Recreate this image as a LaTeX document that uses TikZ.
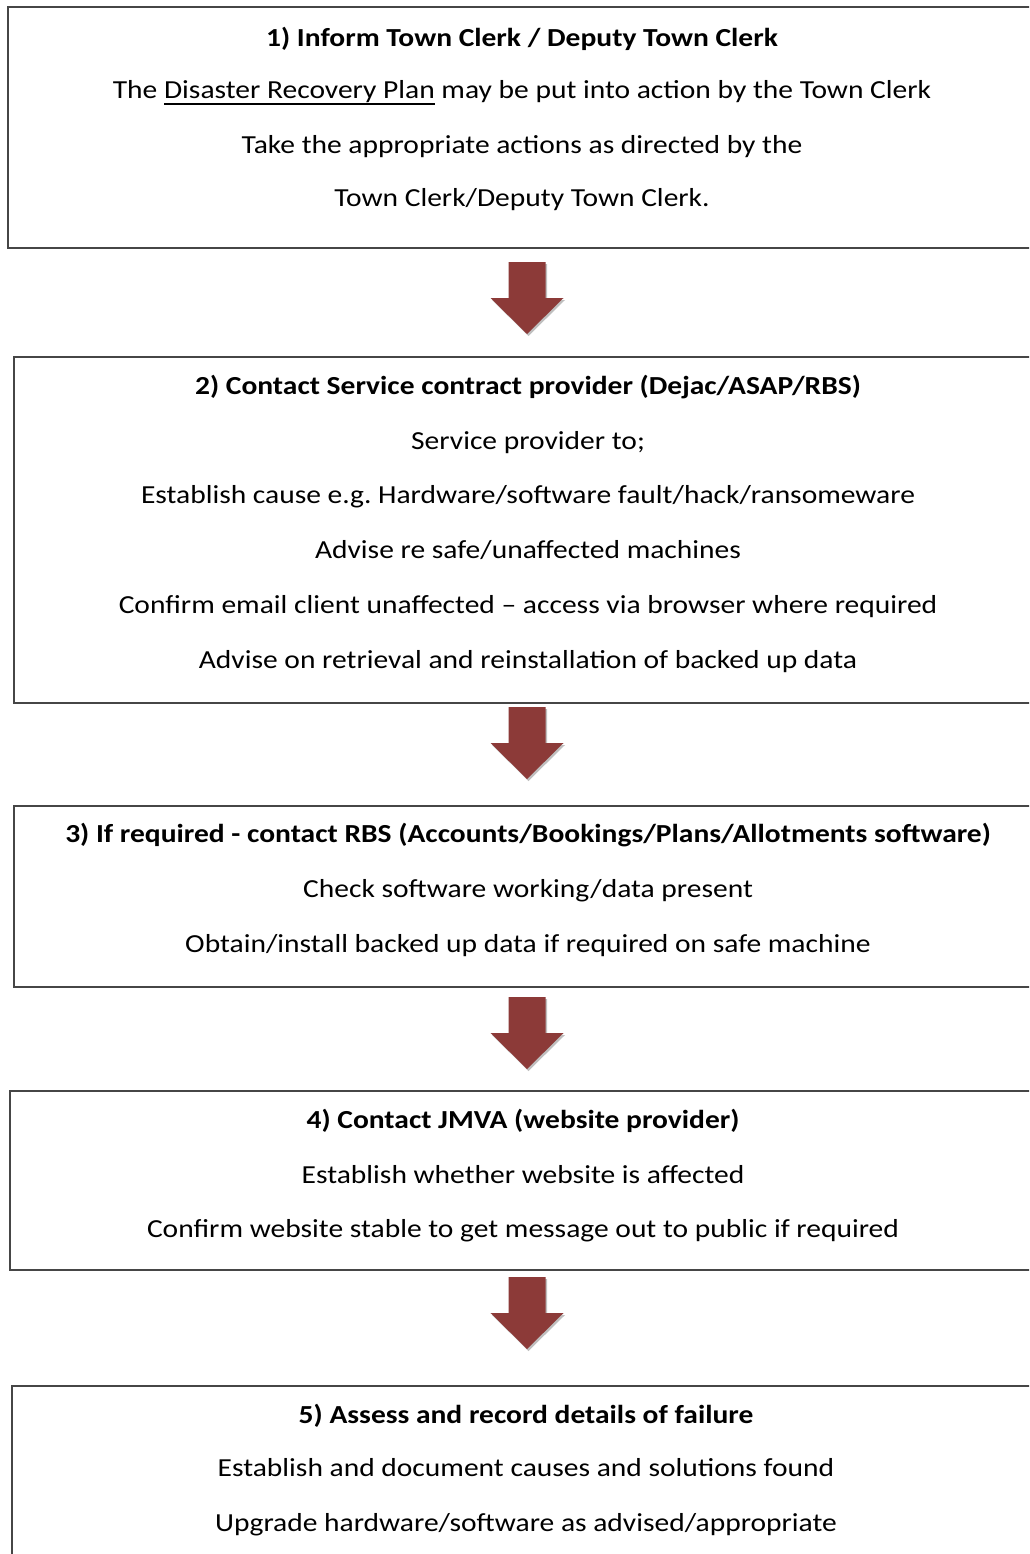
\documentclass[tikz,border=0pt]{standalone}
\usepackage{fontspec}
\setmainfont{Carlito}[FakeStretch=1.135]
\newcommand\myul[1]{\setbox0=\hbox{#1}\rlap{\rule[-5.6pt]{\wd0}{1.8pt}}\box0\relax}
\frenchspacing
\usetikzlibrary{shadows}
\definecolor{arrowred}{RGB}{140,58,56}
\definecolor{boxline}{RGB}{70,70,70}
\begin{document}
\begin{tikzpicture}[x=1pt,y=-1pt,
  box/.style={draw=boxline, line width=2pt, fill=white, anchor=north west, inner sep=0pt, outer sep=0pt},
  txt/.style={anchor=base, inner sep=0pt, font=\fontsize{26}{30}\selectfont},
  ttl/.style={anchor=base, inner sep=0pt, font=\fontsize{26}{30}\selectfont\bfseries},
  blockarrow/.style={fill=arrowred, drop shadow={shadow xshift=1.5pt, shadow yshift=-2pt, opacity=0.25, fill=black}}]
\useasboundingbox (0,0) rectangle (1029,1554);
\clip (0,0) rectangle (1029,1554);
\fill[white] (0,0) rectangle (1029,1554);

% boxes
\node[box, minimum width=1032pt, minimum height=241pt] (b1) at (8,7) {};
\node[box, minimum width=1026pt, minimum height=346pt] (b2) at (14,357) {};
\node[box, minimum width=1026pt, minimum height=181pt] (b3) at (14,806) {};
\node[box, minimum width=1030pt, minimum height=179pt] (b4) at (10,1091) {};
\node[box, minimum width=1028pt, minimum height=190pt] (b5) at (12,1386) {};

% box 1 text
\node[ttl] (t1a) at (522,47) {1) Inform Town Clerk / Deputy Town Clerk};
\node[txt] (t1b) at (522,99) {The \myul{Disaster Recovery Plan} may be put into action by the Town Clerk};
\node[txt] (t1c) at (522,153.5) {Take the appropriate actions as directed by the};
\node[txt] (t1d) at (522,207) {Town Clerk/Deputy Town Clerk.};

% box 2 text
\node[ttl] (t2a) at (528,394) {2) Contact Service contract provider (Dejac/ASAP/RBS)};
\node[txt] (t2b) at (528,449) {Service provider to;};
\node[txt] (t2c) at (528,503) {Establish cause e.g. Hardware/software fault/hack/ransomeware};
\node[txt] (t2d) at (528,558) {Advise re safe/unaffected machines};
\node[txt] (t2e) at (528,613) {Confirm email client unaffected – access via browser where required};
\node[txt] (t2f) at (528,668) {Advise on retrieval and reinstallation of backed up data};

% box 3 text
\node[ttl] (t3a) at (528,842) {3) If required - contact RBS (Accounts/Bookings/Plans/Allotments software)};
\node[txt] (t3b) at (528,897) {Check software working/data present};
\node[txt] (t3c) at (528,952) {Obtain/install backed up data if required on safe machine};

% box 4 text
\node[ttl] (t4a) at (523,1128) {4) Contact JMVA (website provider)};
\node[txt] (t4b) at (523,1183) {Establish whether website is affected};
\node[txt] (t4c) at (523,1237) {Confirm website stable to get message out to public if required};

% box 5 text
\node[ttl] (t5a) at (526,1423) {5) Assess and record details of failure};
\node[txt] (t5b) at (526,1476) {Establish and document causes and solutions found};
\node[txt] (t5c) at (526,1531) {Upgrade hardware/software as advised/appropriate};

% block arrows
\coordinate (a1) at (527,262);
\coordinate (a2) at (527,707);
\coordinate (a3) at (527,997);
\coordinate (a4) at (527,1277);
\foreach \a in {a1,a2,a3,a4}{
  \fill[blockarrow] (\a) ++(-18.5,0) -- ++(37,0) -- ++(0,36) -- ++(18,0)
     -- ++(-36.5,36) -- ++(-36.5,-36) -- ++(18,0) -- cycle;
}
\end{tikzpicture}
\end{document}
